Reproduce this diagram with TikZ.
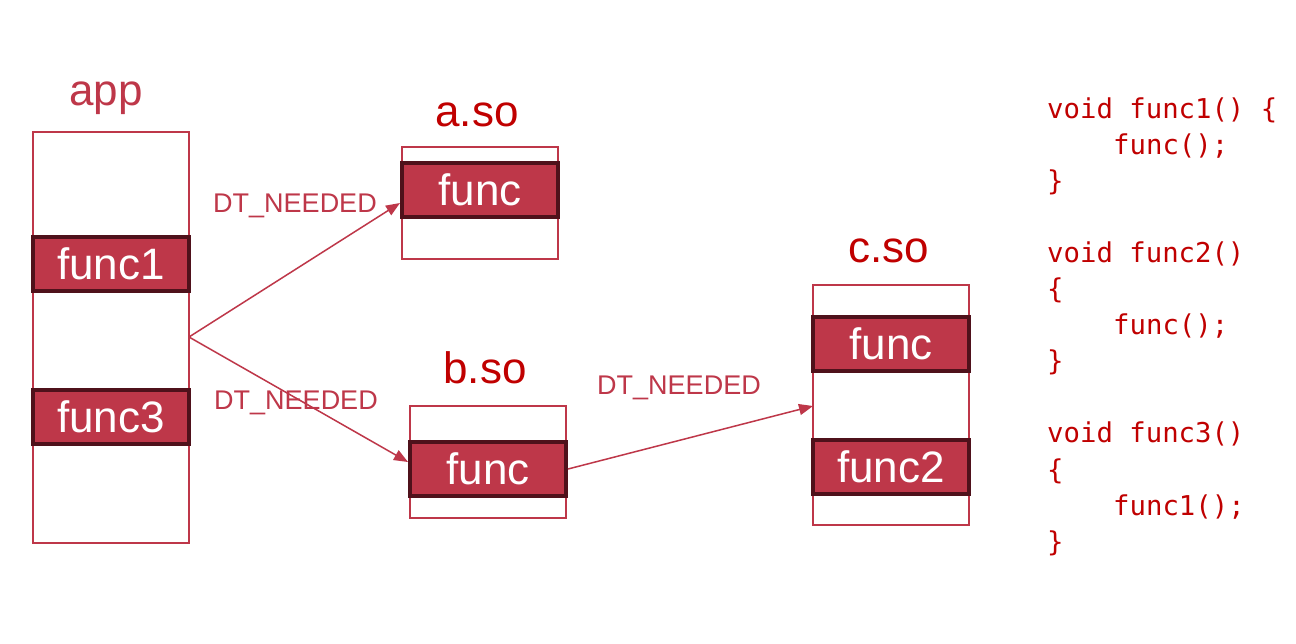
\documentclass[tikz,border=0pt]{standalone}
\usepackage{fontspec}
\setmainfont{Liberation Sans}
\newfontfamily\codefont{DejaVu Sans Mono}
\usetikzlibrary{arrows.meta}
\definecolor{lred}{HTML}{BE3749}
\definecolor{dred}{HTML}{C00000}
\definecolor{bdr}{HTML}{4F111B}
\tikzset{
  libbox/.style={draw=lred, line width=1.5pt, fill=white},
  fnbox/.style={draw=bdr, line width=4pt, fill=lred, text=white, minimum width=156pt, minimum height=54pt, inner sep=0pt, font=\fontsize{44}{50}\selectfont},
  title/.style={anchor=base, font=\fontsize{44}{50}\selectfont, text=dred},
  dtlab/.style={anchor=base, font=\fontsize{27}{32}\selectfont, text=lred},
  conn/.style={draw=lred, line width=1.5pt, -{Triangle[length=14pt,width=11pt]}},
  code/.style={anchor=base west, font=\codefont\fontsize{27.3}{32}\selectfont, text=dred, inner sep=0pt}
}
\begin{document}
\begin{tikzpicture}[x=1pt,y=-1pt]
\useasboundingbox[fill=white] (0,0) rectangle (1296,643);
% app
\draw[libbox] (33,132) rectangle (189,543);
\node[title, text=lred] (tapp) at (106,105) {app};
\node[fnbox] (f1) at (111,264) {func1};
\node[fnbox] (f3) at (111,417) {func3};
\coordinate (src) at (189,337);
% a.so
\draw[libbox] (402,147) rectangle (558,259);
\node[title] (ta) at (477,126) {a.so};
\node[fnbox] (fa) at (480,190) {func};
% b.so
\draw[libbox] (410,406) rectangle (566,518);
\node[title] (tb) at (485,383) {b.so};
\node[fnbox] (fb) at (488,469) {func};
% c.so
\draw[libbox] (813,285) rectangle (969,525);
\node[title] (tc) at (889,262) {c.so};
\node[fnbox] (fc) at (891,344) {func};
\node[fnbox] (fc2) at (891,467) {func2};
\coordinate (cin) at (813,406);
% connectors
\draw[conn] (src) -- ([yshift=-13pt]fa.west);
\draw[conn] (src) -- ([yshift=7pt]fb.west);
\draw[conn] (fb.east) -- (cin);
\node[dtlab] (d1) at (295,212) {DT\_NEEDED};
\node[dtlab] (d2) at (296,409) {DT\_NEEDED};
\node[dtlab] (d3) at (679,394) {DT\_NEEDED};
% code
\node[code] (c1) at (1047,118) {void func1() \{};
\node[code] (c2) at (1113,154.1) {func();};
\node[code] (c3) at (1047,190.2) {\}};
\node[code] (c5) at (1047,262.4) {void func2()};
\node[code] (c6) at (1047,298.5) {\{};
\node[code] (c7) at (1113,334.6) {func();};
\node[code] (c8) at (1047,370.7) {\}};
\node[code] (c10) at (1047,442.9) {void func3()};
\node[code] (c11) at (1047,479) {\{};
\node[code] (c12) at (1113,515.1) {func1();};
\node[code] (c13) at (1047,551.2) {\}};
\end{tikzpicture}
\end{document}
